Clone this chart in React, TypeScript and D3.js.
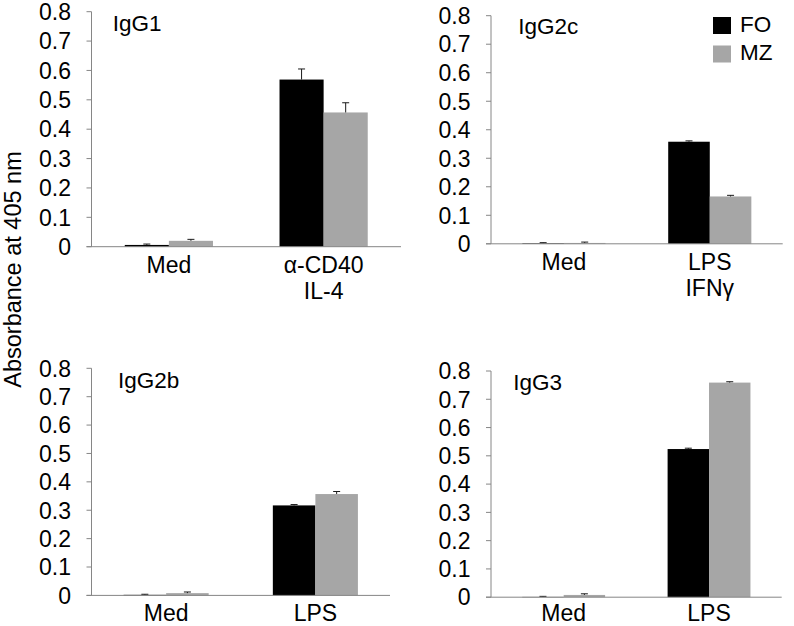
import React from "react";
import * as d3 from "d3";

// ---- data ----
const seriesNames = ["FO", "MZ"];
const seriesColors = ["#000000", "#a6a6a6"];
const yTicks = [0, 0.1, 0.2, 0.3, 0.4, 0.5, 0.6, 0.7, 0.8];

const igg1Categories = [["Med"], ["α-CD40", "IL-4"]];
const igg1FO = [0.006, 0.569];
const igg1MZ = [0.02, 0.457];
const igg1FOErr = [0.003, 0.036];
const igg1MZErr = [0.005, 0.033];

const igg2cCategories = [["Med"], ["LPS", "IFNγ"]];
const igg2cFO = [0.002, 0.358];
const igg2cMZ = [0.003, 0.166];
const igg2cFOErr = [0.002, 0.003];
const igg2cMZErr = [0.003, 0.004];

const igg2bCategories = [["Med"], ["LPS"]];
const igg2bFO = [0.002, 0.317];
const igg2bMZ = [0.008, 0.357];
const igg2bFOErr = [0.002, 0.003];
const igg2bMZErr = [0.004, 0.009];

const igg3Categories = [["Med"], ["LPS"]];
const igg3FO = [0.001, 0.524];
const igg3MZ = [0.008, 0.759];
const igg3FOErr = [0.002, 0.003];
const igg3MZErr = [0.004, 0.003];

const panelTitles = ["IgG1", "IgG2c", "IgG2b", "IgG3"];
const yAxisTitle = "Absorbance at 405 nm";

const panelData = [
  { cats: igg1Categories, vals: [igg1FO, igg1MZ], errs: [igg1FOErr, igg1MZErr] },
  { cats: igg2cCategories, vals: [igg2cFO, igg2cMZ], errs: [igg2cFOErr, igg2cMZErr] },
  { cats: igg2bCategories, vals: [igg2bFO, igg2bMZ], errs: [igg2bFOErr, igg2bMZErr] },
  { cats: igg3Categories, vals: [igg3FO, igg3MZ], errs: [igg3FOErr, igg3MZErr] },
];

// ---- layout ----
const layouts = [
  { ax: 91.5, xEnd: 401, y0: 246.7, y8: 11.7, tx: 112.7, ty: 31 },
  { ax: 491, xEnd: 782.7, y0: 243.8, y8: 15.7, tx: 518.3, ty: 34 },
  { ax: 91.5, xEnd: 390, y0: 595.4, y8: 368.3, tx: 118, ty: 388.3 },
  { ax: 491, xEnd: 781.7, y0: 597.2, y8: 371, tx: 513.3, ty: 390 },
];

const FONT = "'Liberation Sans', Arial, Helvetica, sans-serif";
const AXIS = "#868686";

function Panel({ data, layout, title }: any) {
  const y = d3.scaleLinear().domain([0, 0.8]).range([layout.y0, layout.y8]);
  const x0 = d3
    .scaleBand<number>()
    .domain(data.cats.map((_: any, i: number) => i))
    .range([layout.ax, layout.xEnd])
    .paddingInner(0.43)
    .paddingOuter(0.215);
  const x1 = d3
    .scaleBand<number>()
    .domain(seriesNames.map((_, i) => i))
    .range([0, x0.bandwidth()]);
  const labelY = Math.min(y(0) + 26.5, 620.5);
  return (
    <g>
      {/* bars */}
      {data.cats.map((_: any, ci: number) =>
        seriesNames.map((_s, si) => {
          const v = data.vals[si][ci];
          const e = data.errs[si][ci];
          const bx = (x0(ci) as number) + (x1(si) as number);
          const cx = bx + x1.bandwidth() / 2;
          return (
            <g key={`${ci}-${si}`}>
              <rect
                x={bx}
                y={y(v)}
                width={x1.bandwidth()}
                height={y(0) - y(v)}
                fill={seriesColors[si]}
              />
              <line x1={cx} x2={cx} y1={y(v)} y2={y(v + e)} stroke="#1a1a1a" strokeWidth={1} />
              <line x1={cx - 3.5} x2={cx + 3.5} y1={y(v + e)} y2={y(v + e)} stroke="#1a1a1a" strokeWidth={1} />
            </g>
          );
        })
      )}
      {/* y axis */}
      <line x1={layout.ax} x2={layout.ax} y1={y(0)} y2={y(0.8)} stroke={AXIS} strokeWidth={1} />
      {yTicks.map((t) => (
        <g key={t}>
          <line x1={layout.ax - 5} x2={layout.ax} y1={y(t)} y2={y(t)} stroke={AXIS} strokeWidth={1} />
          <text
            x={layout.ax - 20.5}
            y={y(t)}
            dy="0.36em"
            textAnchor="end"
            fontSize={23}
            fontFamily={FONT}
            fill="#000"
          >
            {d3.format("")(t === 0 ? 0 : +t.toFixed(1))}
          </text>
        </g>
      ))}
      {/* x axis */}
      <line x1={layout.ax - 5} x2={layout.xEnd} y1={y(0)} y2={y(0)} stroke={AXIS} strokeWidth={1} />
      {data.cats.map((lines: string[], ci: number) => (
        <text
          key={ci}
          x={(x0(ci) as number) + x0.bandwidth() / 2}
          y={labelY}
          textAnchor="middle"
          fontSize={23}
          fontFamily={FONT}
          fill="#000"
        >
          {lines.map((l, li) => (
            <tspan key={li} x={(x0(ci) as number) + x0.bandwidth() / 2} dy={li === 0 ? 0 : 26}>
              {l}
            </tspan>
          ))}
        </text>
      ))}
      <text x={layout.tx} y={layout.ty} fontSize={22.5} fontFamily={FONT} fill="#000">
        {title}
      </text>
    </g>
  );
}

export default function App() {
  return (
    <svg
      width={794}
      height={626}
      style={{ position: "absolute", left: 0, top: 0, background: "#fff" }}
    >
      <rect width={794} height={626} fill="#fff" />
      {panelData.map((d, i) => (
        <Panel key={i} data={d} layout={layouts[i]} title={panelTitles[i]} />
      ))}
      <text
        transform="translate(20.5,269.5) rotate(-90)"
        textAnchor="middle"
        fontSize={23.5}
        fontFamily={FONT}
        fill="#000"
      >
        {yAxisTitle}
      </text>
      {/* legend */}
      {seriesNames.map((s, i) => (
        <g key={s}>
          <rect x={713} y={17 + i * 28.5} width={18} height={17} fill={seriesColors[i]} />
          <text x={740} y={32.3 + i * 28} fontSize={22.5} fontFamily={FONT} fill="#000">
            {s}
          </text>
        </g>
      ))}
    </svg>
  );
}
